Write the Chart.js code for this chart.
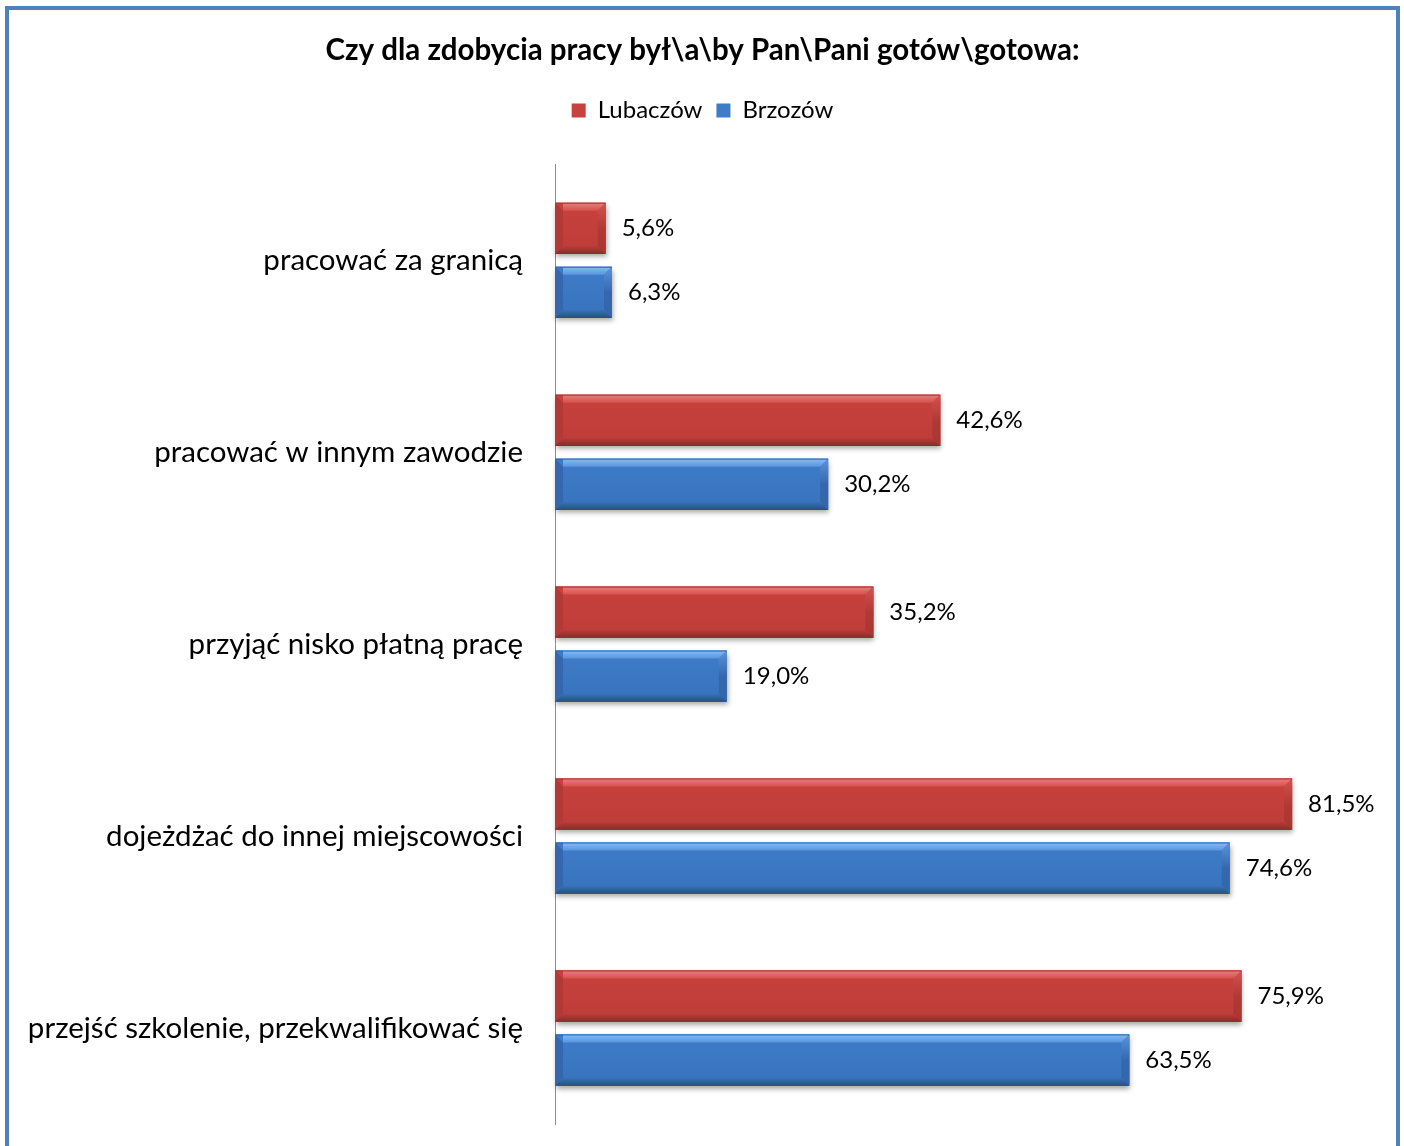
<!DOCTYPE html>
<html>
<head>
<meta charset="utf-8">
<script src="https://cdn.jsdelivr.net/npm/chart.js@4.4.1/dist/chart.umd.min.js"></script>
<style>
  html, body { margin: 0; padding: 0; background: #fff; }
  #wrap { position: relative; width: 1404px; height: 1146px; overflow: hidden; }
  #frame { position: absolute; left: 5px; top: 6px; width: 1387px; height: 1200px; border: 4px solid #4F81BD; box-sizing: content-box; pointer-events: none; }
  canvas { position: absolute; left: 0; top: 0; }
</style>
</head>
<body>
<div id="wrap">
  <canvas id="c" width="1404" height="1146"></canvas>
  <div id="frame"></div>
</div>
<script>
const titleText = 'Czy dla zdobycia pracy był\\a\\by Pan\\Pani gotów\\gotowa:';
const categories = [
  'pracować za granicą',
  'pracować w innym zawodzie',
  'przyjąć nisko płatną pracę',
  'dojeżdżać do innej miejscowości',
  'przejść szkolenie, przekwalifikować się'
];
const seriesNames = ['Lubaczów', 'Brzozów'];
const lubaczow = [5.6, 42.6, 35.2, 81.5, 75.9];
const brzozow = [6.3, 30.2, 19.0, 74.6, 63.5];

const FONT = 'Lato, "Open Sans", sans-serif';

const palettes = [
  { base: '#C8413D', light: '#E8807B', top: '#D4524E', edge: '#A83531', dark: '#872B28', mid: '#BD3D39', side: '#B23935' },
  { base: '#3E7CC9', light: '#86BDF5', top: '#5A95DD', edge: '#3466A8', dark: '#2A4E80', mid: '#3872BC', side: '#3567AE' }
];

// shift title and legend blocks so they are centred like the original
const centerShift = {
  id: 'centerShift',
  afterLayout(chart) {
    if (chart.titleBlock) { chart.titleBlock.left = 36; }
    if (chart.legend) { chart.legend.left = 36; }
  }
};

const bevelPlugin = {
  id: 'bevel',
  afterDatasetsDraw(chart) {
    const ctx = chart.ctx;
    chart.data.datasets.forEach((ds, di) => {
      const meta = chart.getDatasetMeta(di);
      const p = palettes[di];
      meta.data.forEach((bar, idx) => {
        const x0 = Math.min(bar.base, bar.x), x1 = Math.max(bar.base, bar.x);
        const y0 = bar.y - bar.height / 2, y1 = bar.y + bar.height / 2;
        const b = 8;
        ctx.save();
        ctx.shadowColor = 'rgba(0,0,0,0.35)';
        ctx.shadowBlur = 5;
        ctx.shadowOffsetX = 1;
        ctx.shadowOffsetY = 3;
        const g = ctx.createLinearGradient(0, y0, 0, y1);
        g.addColorStop(0, p.base);
        g.addColorStop(1, p.mid);
        ctx.fillStyle = g;
        ctx.fillRect(x0, y0, x1 - x0, y1 - y0);
        ctx.restore();
        ctx.save();
        ctx.fillStyle = p.side;
        ctx.beginPath();
        ctx.moveTo(x0, y0); ctx.lineTo(x0 + b, y0 + b); ctx.lineTo(x0 + b, y1 - b); ctx.lineTo(x0, y1); ctx.closePath();
        ctx.fill();
        const gt = ctx.createLinearGradient(0, y0, 0, y0 + b);
        gt.addColorStop(0, p.light);
        gt.addColorStop(1, p.top);
        ctx.fillStyle = gt;
        ctx.beginPath();
        ctx.moveTo(x0 + b, y0); ctx.lineTo(x1, y0); ctx.lineTo(x1 - b, y0 + b); ctx.lineTo(x0 + b, y0 + b); ctx.closePath();
        ctx.fill();
        const gr = ctx.createLinearGradient(0, y0, 0, y1);
        gr.addColorStop(0, p.top);
        gr.addColorStop(0.5, p.side);
        gr.addColorStop(1, p.edge);
        ctx.fillStyle = gr;
        ctx.beginPath();
        ctx.moveTo(x1, y0); ctx.lineTo(x1, y1); ctx.lineTo(x1 - b, y1 - b); ctx.lineTo(x1 - b, y0 + b); ctx.closePath();
        ctx.fill();
        const gb = ctx.createLinearGradient(0, y1 - b, 0, y1);
        gb.addColorStop(0, p.mid);
        gb.addColorStop(1, p.dark);
        ctx.fillStyle = gb;
        ctx.beginPath();
        ctx.moveTo(x0, y1); ctx.lineTo(x1, y1); ctx.lineTo(x1 - b, y1 - b); ctx.lineTo(x0 + b, y1 - b); ctx.closePath();
        ctx.fill();
        ctx.fillStyle = p.edge;
        ctx.fillRect(x0, y0, x1 - x0, 1);
        ctx.restore();
        ctx.save();
        ctx.fillStyle = '#000';
        ctx.font = '24px ' + FONT;
        ctx.textAlign = 'left';
        ctx.textBaseline = 'middle';
        const v = ds.data[idx];
        ctx.fillText(v.toFixed(1).replace('.', ',') + '%', x1 + 16, bar.y);
        ctx.restore();
      });
    });
  }
};

new Chart(document.getElementById('c'), {
  type: 'bar',
  data: {
    labels: categories,
    datasets: [
      { label: seriesNames[0], data: lubaczow, backgroundColor: palettes[0].base, borderWidth: 0 },
      { label: seriesNames[1], data: brzozow, backgroundColor: palettes[1].base, borderWidth: 0 }
    ]
  },
  options: {
    indexAxis: 'y',
    responsive: false,
    animation: false,
    events: [],
    categoryPercentage: 0.667,
    barPercentage: 0.8,
    layout: { padding: { left: 0, right: 35, top: 0, bottom: 22 } },
    scales: {
      x: {
        position: 'top',
        min: 0, max: 90,
        ticks: { display: false },
        grid: { display: false },
        border: { display: false },
        afterFit(s) { s.height = 32; }
      },
      y: {
        ticks: { color: '#000', font: { family: FONT, size: 29.5 }, padding: 32 },
        grid: { display: false, drawTicks: false },
        border: { display: true, color: '#8C8C8C', width: 1 },
        afterFit(s) { s.width = 555; s.paddingTop = 0; s.paddingBottom = 0; }
      }
    },
    plugins: {
      title: {
        display: true,
        text: titleText,
        color: '#000',
        font: { family: FONT, size: 29.5, weight: 'bold' },
        padding: { top: 33, bottom: 16 }
      },
      legend: {
        display: true,
        labels: { color: '#000', font: { family: FONT, size: 24 }, boxWidth: 14, boxHeight: 14, padding: 14 }
      },
      tooltip: { enabled: false }
    }
  },
  plugins: [bevelPlugin, centerShift]
});
</script>
</body>
</html>
